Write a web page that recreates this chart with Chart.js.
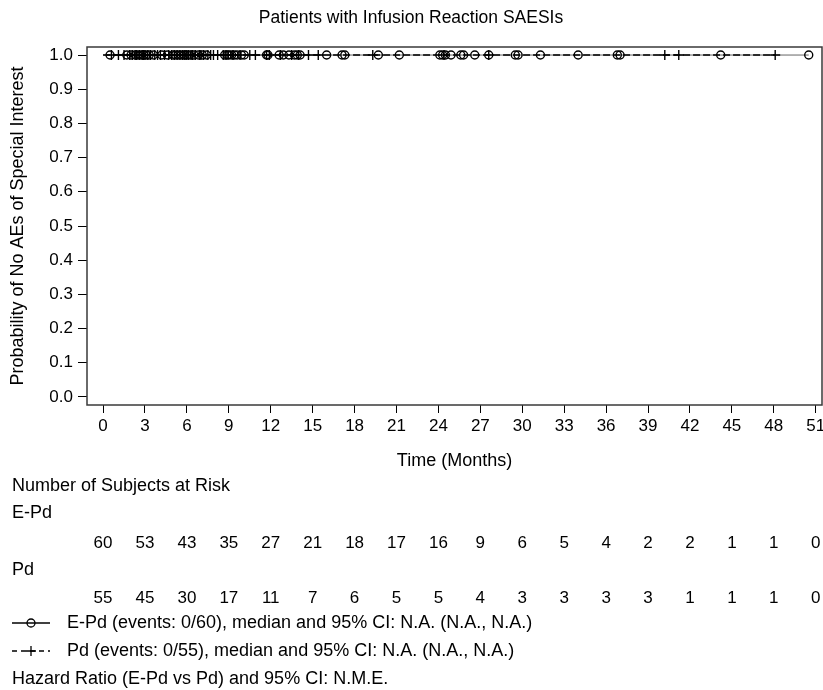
<!DOCTYPE html>
<html>
<head>
<meta charset="utf-8">
<title>Infusion Reaction SAESIs</title>
<script src="https://cdn.jsdelivr.net/npm/chart.js@4.4.0/dist/chart.umd.min.js"></script>
<style>
  html, body { margin: 0; padding: 0; background: #fff; }
</style>
</head>
<body>
<canvas id="km" width="823" height="690"></canvas>
<script>
// tempos de censura (meses) — nenhum evento nos dois braços
const censEPd = [
  0.5, 1.7, 2.0, 2.3, 2.5, 2.7, 2.9,
  3.1, 3.3, 3.6, 4.2, 4.6, 5.0, 5.2, 5.4, 5.6, 5.8,
  6.0, 6.2, 6.5, 6.8, 7.1, 7.4, 8.7, 8.9,
  9.0, 9.2, 9.4, 9.6, 9.9, 10.1, 11.7, 11.8,
  12.6, 12.9, 13.3, 13.7, 13.9, 14.1,
  16.0, 17.1, 17.3,
  19.7, 21.2,
  24.1, 24.3, 24.5, 24.9, 25.6, 25.8, 26.6,
  27.6, 29.5, 29.7,
  31.3, 34.0, 36.8, 37.0, 44.2, 50.5
];
const censPd = [
  0.6, 1.1, 1.5, 1.9, 2.1, 2.3, 2.4, 2.6, 2.8, 2.9,
  3.0, 3.2, 3.4, 3.7, 3.9, 4.1, 4.4, 4.7, 4.9, 5.1, 5.3, 5.5, 5.7, 5.85, 5.95,
  6.1, 6.3, 6.4, 6.6, 6.9, 7.0, 7.2, 7.5, 7.7, 7.9, 8.2, 8.6, 8.8,
  9.3, 9.8, 10.5, 10.9, 11.7, 11.9,
  12.7, 13.5, 14.0, 14.7,
  15.4, 19.3, 24.4, 27.6,
  40.2, 41.2, 48.1
];

// eixo x (meses) e numero em risco em cada marca
const mesesTicks = [0, 3, 6, 9, 12, 15, 18, 21, 24, 27, 30, 33, 36, 39, 42, 45, 48, 51];
const riscoEPd = [60, 53, 43, 35, 27, 21, 18, 17, 16, 9, 6, 5, 4, 2, 2, 1, 1, 0];
const riscoPd = [55, 45, 30, 17, 11, 7, 6, 5, 5, 4, 3, 3, 3, 3, 1, 1, 1, 0];
const probTicks = [0, 0.1, 0.2, 0.3, 0.4, 0.5, 0.6, 0.7, 0.8, 0.9, 1.0];

const legEPd = 'E-Pd (events: 0/60), median and 95% CI: N.A. (N.A., N.A.)';
const legPd = 'Pd (events: 0/55), median and 95% CI: N.A. (N.A., N.A.)';
const textoHR = 'Hazard Ratio (E-Pd vs Pd) and 95% CI: N.M.E.';

const FAMILIA = '"Liberation Sans", Arial, sans-serif';
const TAM_NUM = 17;   // numeros (ticks, tabela)
const TAM_TXT = 18;   // textos

// curva KM: sem eventos, fica em 1.0 ate a ultima censura
function curva(tempos) {
  return [{ x: 0, y: 1 }].concat(tempos.map(t => ({ x: t, y: 1 })));
}
function marcas(tempos) {
  return tempos.map(t => ({ x: t, y: 1 }));
}

// moldura em volta da area do grafico
const moldura = {
  id: 'moldura',
  beforeDatasetsDraw(chart) {
    const a = chart.chartArea, ctx = chart.ctx;
    ctx.save();
    ctx.strokeStyle = '#3a3a3a';
    ctx.lineWidth = 1.5;
    ctx.strokeRect(a.left, a.top, a.right - a.left, a.bottom - a.top);
    ctx.restore();
  }
};

// tabela de risco + legenda embaixo do eixo x
const tabelaRisco = {
  id: 'tabelaRisco',
  afterDraw(chart) {
    const ctx = chart.ctx, sx = chart.scales.x;
    ctx.save();
    ctx.fillStyle = '#000';
    ctx.textBaseline = 'middle';
    ctx.textAlign = 'left';
    ctx.font = TAM_TXT + 'px ' + FAMILIA;
    ctx.fillText('Number of Subjects at Risk', 12, 486);
    ctx.fillText('E-Pd', 12, 513);
    ctx.fillText('Pd', 12, 570);

    ctx.font = TAM_NUM + 'px ' + FAMILIA;
    ctx.textAlign = 'center';
    mesesTicks.forEach((m, i) => {
      const px = sx.getPixelForValue(m);
      ctx.fillText(String(riscoEPd[i]), px, 543);
      ctx.fillText(String(riscoPd[i]), px, 598);
    });

    // amostras da legenda
    ctx.strokeStyle = '#000';
    ctx.lineWidth = 1.3;
    ctx.beginPath();
    ctx.moveTo(12, 623); ctx.lineTo(50, 623);
    ctx.stroke();
    ctx.beginPath();
    ctx.arc(31, 623, 4, 0, Math.PI * 2);
    ctx.stroke();

    ctx.setLineDash([5, 4]);
    ctx.beginPath();
    ctx.moveTo(12, 651); ctx.lineTo(50, 651);
    ctx.stroke();
    ctx.setLineDash([]);
    ctx.beginPath();
    ctx.moveTo(31, 646); ctx.lineTo(31, 656);
    ctx.moveTo(26, 651); ctx.lineTo(36, 651);
    ctx.stroke();

    ctx.font = TAM_TXT + 'px ' + FAMILIA;
    ctx.textAlign = 'left';
    ctx.fillText(legEPd, 67, 623);
    ctx.fillText(legPd, 67, 651);
    ctx.fillText(textoHR, 12, 679);
    ctx.restore();
  }
};

const ctx = document.getElementById('km').getContext('2d');
new Chart(ctx, {
  type: 'line',
  data: {
    datasets: [
      {
        label: 'E-Pd',
        data: curva(censEPd),
        borderColor: '#666',
        borderWidth: 1,
        pointRadius: 0,
        stepped: true,
        order: 4
      },
      {
        label: 'Pd',
        data: curva(censPd),
        borderColor: '#000',
        borderWidth: 1.5,
        borderDash: [7, 3],
        pointRadius: 0,
        stepped: true,
        order: 3
      },
      {
        label: 'E-Pd censurados',
        data: marcas(censEPd),
        showLine: false,
        pointStyle: 'circle',
        pointRadius: 4,
        pointBorderWidth: 1.4,
        pointBorderColor: '#000',
        pointBackgroundColor: 'rgba(0,0,0,0)',
        order: 2
      },
      {
        label: 'Pd censurados',
        data: marcas(censPd),
        showLine: false,
        pointStyle: 'cross',
        pointRadius: 5,
        pointBorderWidth: 1.4,
        pointBorderColor: '#000',
        order: 1
      }
    ]
  },
  options: {
    responsive: false,
    devicePixelRatio: 1,
    animation: false,
    layout: { autoPadding: false, padding: { top: 0, left: 0, right: 1, bottom: 218 } },
    plugins: {
      legend: { display: false },
      tooltip: { enabled: false },
      title: {
        display: true,
        text: 'Patients with Infusion Reaction SAESIs',
        color: '#000',
        font: { family: FAMILIA, size: 17.5, weight: 'normal' },
        padding: { top: 7.5, bottom: 18.5 }
      }
    },
    scales: {
      x: {
        type: 'linear',
        min: -1.15,
        max: 51.45,
        afterBuildTicks: s => { s.ticks = mesesTicks.map(v => ({ value: v })); },
        afterFit: s => { s.paddingRight = 0; s.paddingLeft = 0; },
        border: { display: false },
        grid: { display: true, drawOnChartArea: false, drawTicks: true, tickLength: 8, color: '#000', lineWidth: 1 },
        ticks: { color: '#000', padding: 3, maxRotation: 0, autoSkip: false, font: { family: FAMILIA, size: TAM_NUM } },
        title: {
          display: true,
          text: 'Time (Months)',
          color: '#000',
          font: { family: FAMILIA, size: TAM_TXT },
          padding: { top: 11, bottom: 0 }
        }
      },
      y: {
        min: -0.0235,
        max: 1.0235,
        afterBuildTicks: s => { s.ticks = probTicks.map(v => ({ value: v })); },
        afterFit: s => { s.width = 87; },
        border: { display: false },
        grid: { display: true, drawOnChartArea: false, drawTicks: true, tickLength: 9, color: '#000', lineWidth: 1 },
        ticks: {
          color: '#000',
          padding: 5,
          font: { family: FAMILIA, size: TAM_NUM },
          callback: v => v.toFixed(1)
        },
        title: {
          display: true,
          text: 'Probability of No AEs of Special Interest',
          color: '#000',
          font: { family: FAMILIA, size: TAM_TXT },
          padding: { top: 7, bottom: 4 }
        }
      }
    }
  },
  plugins: [moldura, tabelaRisco]
});
</script>
</body>
</html>
